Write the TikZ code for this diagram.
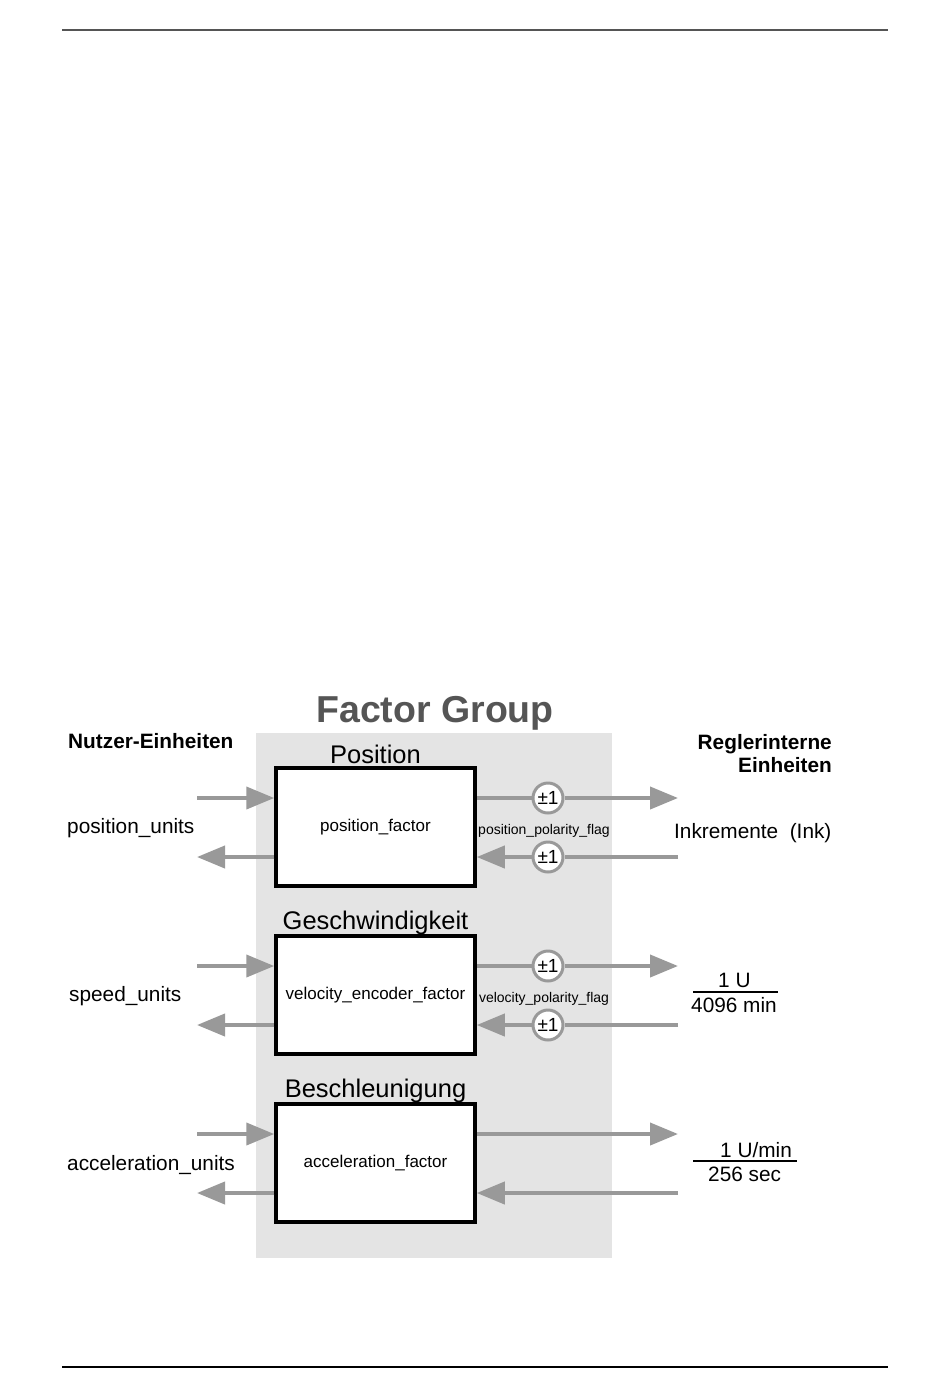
\documentclass[tikz,border=0pt]{standalone}
\usepackage{fontspec}
\setmainfont{Liberation Sans}
\usetikzlibrary{arrows.meta}
\definecolor{flow}{HTML}{999999}
\definecolor{groupbg}{HTML}{E4E4E4}
\definecolor{titlegray}{HTML}{555555}
\begin{document}
\begin{tikzpicture}[x=1pt,y=-1pt,
  flowline/.style={draw=flow, line width=4pt},
  flowarrow/.style={flowline, -{Triangle[length=28pt,width=22pt]}},
  factorbox/.style={draw=black, line width=3.5pt, fill=white, minimum width=199pt, minimum height=118pt, inner sep=0pt, font=\fontsize{17}{19}\selectfont},
  sign/.style={circle, draw=flow, line width=3pt, fill=white, minimum size=30pt, inner sep=0pt, font=\fontsize{19}{21}\selectfont},
  grouptitle/.style={anchor=base, inner sep=0pt, text=titlegray, font=\fontsize{37.5}{40}\selectfont\bfseries},
  sectitle/.style={anchor=base, inner sep=0pt, font=\fontsize{25.5}{28}\selectfont},
  headlbl/.style={inner sep=0pt, font=\fontsize{20.8}{24}\selectfont\bfseries},
  unitlbl/.style={anchor=base west, inner sep=0pt, font=\fontsize{20.8}{24}\selectfont},
  flaglbl/.style={anchor=base, inner sep=0pt, font=\fontsize{14}{16}\selectfont},
  rulelineA/.style={draw=titlegray, line width=2pt},
  rulelineB/.style={draw=black, line width=2pt}
]
\useasboundingbox (0,0) rectangle (950,1398);
\fill[white] (0,0) rectangle (950,1398);

% page rules
\draw[rulelineA] (62,30) -- (888,30);
\draw[rulelineB] (62,1367) -- (888,1367);

% group background
\fill[groupbg] (256,733) rectangle (612,1258);

% titles
\node[grouptitle] (ttl) at (435,722) {Factor Group};
\node[headlbl, anchor=base west] (nutzer) at (68,748) {Nutzer-Einheiten};
\node[headlbl, anchor=base east] (regl1) at (832,749) {Reglerinterne};
\node[headlbl, anchor=base east] (regl2) at (832,772) {Einheiten};

% section titles
\node[sectitle] (t1) at (375.5,763) {Position};
\node[sectitle] (t2) at (375.5,929) {Geschwindigkeit};
\node[sectitle] (t3) at (375.5,1097) {Beschleunigung};

% factor boxes
\node[factorbox] (b1) at (375.5,827) {position\_factor};
\node[factorbox] (b2) at (375.5,995) {velocity\_encoder\_factor};
\node[factorbox] (b3) at (375.5,1163) {acceleration\_factor};

% left side units
\node[unitlbl] (u1) at (67,833) {position\_units};
\node[unitlbl] (u2) at (69,1001) {speed\_units};
\node[unitlbl] (u3) at (67,1170) {acceleration\_units};

% left arrow ends
\coordinate (l1a) at (197,798);
\coordinate (l1b) at (197,857);
\coordinate (l2a) at (197,966);
\coordinate (l2b) at (197,1025);
\coordinate (l3a) at (197,1134);
\coordinate (l3b) at (197,1193);

% right arrow ends
\coordinate (r1a) at (678,798);
\coordinate (r1b) at (678,857);
\coordinate (r2a) at (678,966);
\coordinate (r2b) at (678,1025);
\coordinate (r3a) at (678,1134);
\coordinate (r3b) at (678,1193);

% left arrows
\draw[flowarrow] (l1a) -- (b1.west |- l1a);
\draw[flowarrow] (b1.west |- l1b) -- (l1b);
\draw[flowarrow] (l2a) -- (b2.west |- l2a);
\draw[flowarrow] (b2.west |- l2b) -- (l2b);
\draw[flowarrow] (l3a) -- (b3.west |- l3a);
\draw[flowarrow] (b3.west |- l3b) -- (l3b);

% polarity circles
\node[sign] (c1a) at (548,798) {±1};
\node[sign] (c1b) at (548,857) {±1};
\node[sign] (c2a) at (548,966) {±1};
\node[sign] (c2b) at (548,1025) {±1};

% right arrows
\draw[flowline] (b1.east |- c1a) -- (c1a);
\draw[flowarrow] (c1a) -- (r1a);
\draw[flowline] (r1b) -- (c1b);
\draw[flowarrow] (c1b) -- (b1.east |- c1b);
\draw[flowline] (b2.east |- c2a) -- (c2a);
\draw[flowarrow] (c2a) -- (r2a);
\draw[flowline] (r2b) -- (c2b);
\draw[flowarrow] (c2b) -- (b2.east |- c2b);
\draw[flowarrow] (b3.east |- r3a) -- (r3a);
\draw[flowarrow] (r3b) -- (b3.east |- r3b);

% polarity labels
\node[flaglbl] (f1) at (544,834) {position\_polarity\_flag};
\node[flaglbl] (f2) at (544,1002) {velocity\_polarity\_flag};

% right side units
\node[unitlbl] (ink) at (674,838) {Inkremente\ \ (Ink)};
\node[unitlbl] (fr1n) at (718,987) {1 U};
\node[unitlbl] (fr1d) at (691,1012) {4096 min};
\coordinate (fr1l) at (693,992);
\coordinate (fr1r) at (778,992);
\draw[line width=2pt] (fr1l) -- (fr1r);
\node[unitlbl] (fr2n) at (720,1157) {1 U/min};
\node[unitlbl] (fr2d) at (708,1181) {256 sec};
\coordinate (fr2l) at (693,1161);
\coordinate (fr2r) at (797,1161);
\draw[line width=2pt] (fr2l) -- (fr2r);
\end{tikzpicture}
\end{document}
